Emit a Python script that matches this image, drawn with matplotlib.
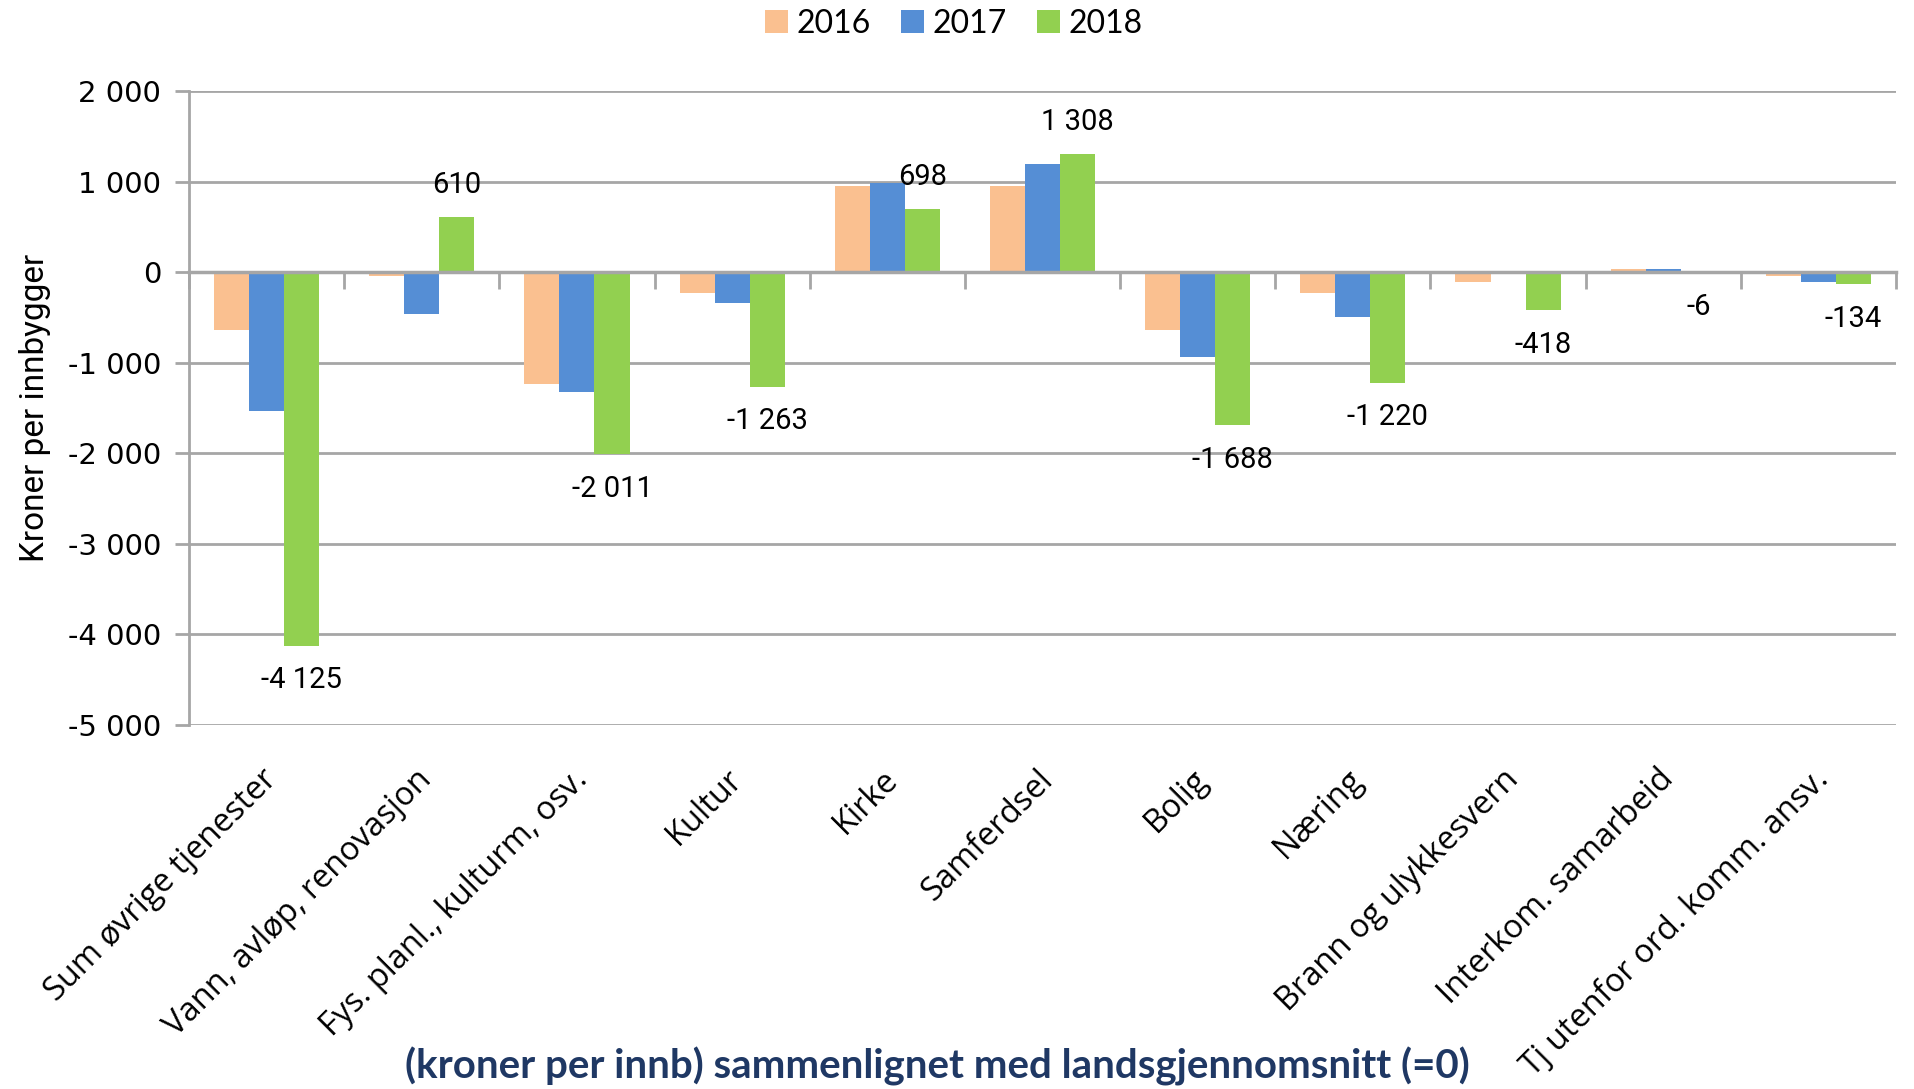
import matplotlib
matplotlib.use("Agg")
import matplotlib.pyplot as plt
import matplotlib.font_manager as fm
import numpy as np

categories = ["Sum øvrige tjenester", "Vann, avløp, renovasjon", "Fys. planl., kulturm, osv.",
              "Kultur", "Kirke", "Samferdsel", "Bolig", "Næring", "Brann og ulykkesvern",
              "Interkom. samarbeid", "Tj utenfor ord. komm. ansv."]
v2016 = [-641, -48, -1237, -226, 956, 956, -641, -226, -107, 37, -48]
v2017 = [-1533, -467, -1326, -344, 985, 1193, -937, -493, -22, 37, -107]
v2018 = [-4125, 610, -2011, -1263, 698, 1308, -1688, -1220, -418, -6, -134]
years = ["2016", "2017", "2018"]
colors = ["#FAC090", "#558ED5", "#92D050"]
yticks = [2000, 1000, 0, -1000, -2000, -3000, -4000, -5000]

def fmt(v):
    s = f"{abs(v):,}".replace(",", " ")
    return ("-" if v < 0 else "") + s

avail = {f.name for f in fm.fontManager.ttflist}
narrow = "Liberation Sans Narrow" if "Liberation Sans Narrow" in avail else "Roboto"

fig = plt.figure(figsize=(19.14, 10.89), dpi=100)
ax = fig.add_axes([189/1914, 1-725/1089, (1896-189)/1914, (725-91)/1089])

x = np.arange(len(categories))
w = 0.226
series = [v2016, v2017, v2018]
for i, (vals, c, lab) in enumerate(zip(series, colors, years)):
    ax.bar(x + (i-1)*w, vals, width=w, color=c, label=lab, zorder=3)

for xi, v in zip(x, v2018):
    off = 23 if v >= 0 else -25
    ax.annotate(fmt(v), (xi + w, v), xytext=(0, off), textcoords="offset points",
                ha="center", va="center", fontsize=21, family=narrow, zorder=4)

ax.set_xlim(-0.5, len(categories)-0.5)
ax.set_ylim(-5000, 2000)
ax.set_yticks(yticks)
ax.set_yticklabels([fmt(t) for t in yticks], fontsize=21, family="DejaVu Sans")
ax.yaxis.grid(True, color="#A6A6A6", linewidth=2, zorder=0)
ax.tick_params(axis="y", length=10, width=2, color="#A6A6A6", pad=10)

for s in ["top", "right"]:
    ax.spines[s].set_visible(False)
ax.spines["left"].set_color("#A6A6A6")
ax.spines["left"].set_linewidth(2)
ax.spines["bottom"].set_position(("data", 0))
ax.spines["bottom"].set_color("#A6A6A6")
ax.spines["bottom"].set_linewidth(2.5)
ax.spines["bottom"].set_zorder(3.5)
ax.set_xticks(np.arange(len(categories)+1) - 0.5)
ax.set_xticklabels([])
ax.tick_params(axis="x", length=12, width=2, color="#A6A6A6", direction="out")

for xi, cat in zip(x, categories):
    ax.text(xi - 0.04, -0.06, cat, transform=ax.get_xaxis_transform(), rotation=45,
            rotation_mode="anchor", ha="right", va="top", fontsize=23.5, family="Open Sans")

ax.set_ylabel("Kroner per innbygger", fontsize=24, family=narrow, labelpad=12)

fig.text(0.49, 1-1066/1089, "(kroner per innb) sammenlignet med landsgjennomsnitt (=0)",
         ha="center", va="center", fontsize=29, fontweight="bold", family="Lato", color="#1F3864")

leg = fig.legend(loc="center", bbox_to_anchor=(954/1914, 1-24/1089), ncol=3, frameon=False,
                 prop={"family": "Lato", "size": 23}, handlelength=0.72, handleheight=0.72,
                 handletextpad=0.27, columnspacing=0.94)

fig.savefig("out.png", dpi=100)
